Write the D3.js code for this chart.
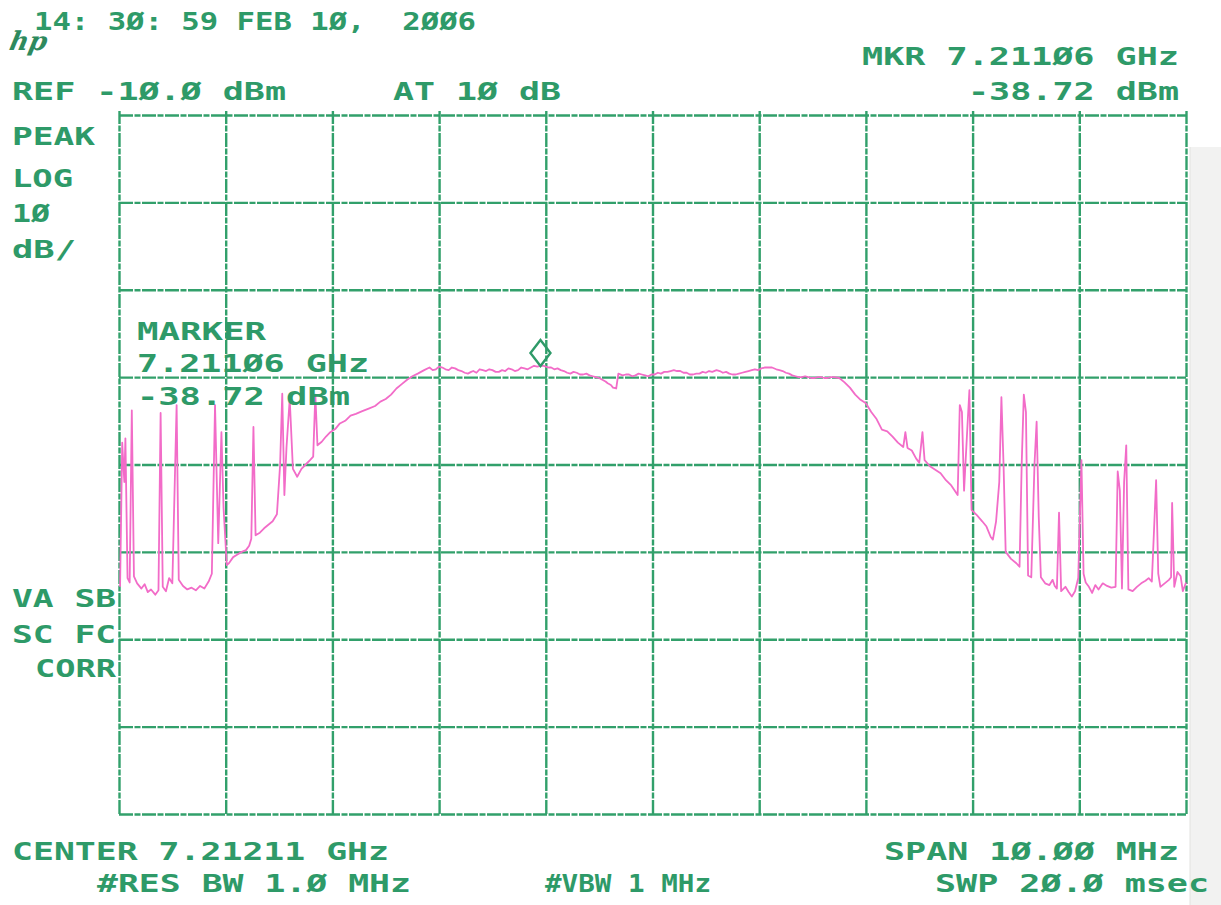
<!DOCTYPE html>
<html>
<head>
<meta charset="utf-8">
<script src="https://cdn.jsdelivr.net/npm/d3@7"></script>
<style>
  html, body { margin: 0; padding: 0; background: #ffffff; }
  svg { display: block; }
  .lbl { font-family: "DejaVu Sans Mono", "Liberation Mono", monospace; font-weight: bold; font-size: 24px; fill: #2e9a68; white-space: pre; }
</style>
</head>
<body>
<svg id="chart" width="1221" height="905"></svg>
<script>
// Analyzer settings
const centerGHz = 7.21211;
const spanMHz = 10;
const refLevel = -10;        // dBm, top graticule line
const dbPerDiv = 10;
const vDivs = 8;
const hDivs = 10;

// Marker readout
const markerGHz = 7.21106;
const markerDbm = -38.72;

// Trace: frequency offset from centre (MHz) and level (dBm)
const traceOffsetMHz = [
  -4.99, -4.97, -4.95, -4.94, -4.92, -4.90, -4.88, -4.86, -4.83, -4.79, -4.76, -4.73, -4.70, -4.66, -4.63,
  -4.61, -4.59, -4.56, -4.53, -4.50, -4.46, -4.44, -4.40, -4.36, -4.32, -4.28, -4.24, -4.20, -4.16, -4.13,
  -4.10, -4.07, -4.04, -4.02, -3.99, -3.97, -3.93, -3.89, -3.85, -3.81, -3.78, -3.76, -3.74, -3.72, -3.68,
  -3.64, -3.60, -3.56, -3.52, -3.49, -3.47, -3.45, -3.43, -3.40, -3.37, -3.33, -3.29, -3.25, -3.21, -3.18,
  -3.16, -3.14, -3.10, -3.06, -3.02, -2.97, -2.93, -2.88, -2.83, -2.78, -2.72, -2.66, -2.60, -2.55, -2.50,
  -2.45, -2.40, -2.35, -2.30, -2.25, -2.20, -2.14, -2.09, -2.06, -2.03, -2.00, -1.97, -1.94, -1.91, -1.88,
  -1.85, -1.82, -1.79, -1.76, -1.73, -1.70, -1.68, -1.65, -1.62, -1.59, -1.56, -1.53, -1.50, -1.47, -1.44,
  -1.41, -1.38, -1.35, -1.32, -1.29, -1.26, -1.23, -1.20, -1.17, -1.14, -1.11, -1.08, -1.05, -1.02, -1.00,
  -0.97, -0.95, -0.92, -0.89, -0.86, -0.83, -0.80, -0.77, -0.74, -0.71, -0.68, -0.65, -0.62, -0.59, -0.56,
  -0.53, -0.50, -0.47, -0.44, -0.42, -0.39, -0.37, -0.34, -0.32, -0.28, -0.25, -0.22, -0.19, -0.16, -0.13,
  -0.10, -0.07, -0.04, -0.01, 0.02, 0.05, 0.08, 0.11, 0.14, 0.17, 0.20, 0.23, 0.26, 0.29, 0.32,
  0.35, 0.38, 0.41, 0.44, 0.47, 0.50, 0.53, 0.56, 0.60, 0.63, 0.66, 0.69, 0.72, 0.75, 0.78,
  0.81, 0.84, 0.87, 0.90, 0.93, 0.96, 0.99, 1.02, 1.05, 1.08, 1.12, 1.16, 1.19, 1.22, 1.25,
  1.28, 1.31, 1.34, 1.37, 1.40, 1.43, 1.46, 1.49, 1.52, 1.55, 1.58, 1.61, 1.64, 1.67, 1.70,
  1.75, 1.80, 1.85, 1.90, 1.95, 2.00, 2.05, 2.10, 2.15, 2.20, 2.25, 2.30, 2.35, 2.37, 2.39,
  2.43, 2.47, 2.50, 2.53, 2.55, 2.60, 2.65, 2.70, 2.75, 2.80, 2.86, 2.88, 2.90, 2.92, 2.95,
  2.97, 2.99, 3.04, 3.09, 3.13, 3.17, 3.19, 3.22, 3.25, 3.27, 3.29, 3.31, 3.36, 3.41, 3.44,
  3.46, 3.48, 3.50, 3.52, 3.55, 3.58, 3.60, 3.62, 3.64, 3.68, 3.72, 3.75, 3.77, 3.79, 3.81,
  3.83, 3.87, 3.90, 3.93, 3.96, 3.99, 4.02, 4.04, 4.06, 4.09, 4.12, 4.15, 4.18, 4.22, 4.26,
  4.30, 4.34, 4.36, 4.38, 4.40, 4.42, 4.44, 4.46, 4.50, 4.54, 4.58, 4.62, 4.65, 4.68, 4.72,
  4.74, 4.76, 4.80, 4.84, 4.86, 4.87, 4.89, 4.92, 4.95, 4.97, 5.00
];
const traceDbm = [
  -64.0, -47.5, -52.0, -47.0, -63.0, -63.5, -43.8, -62.8, -63.6, -64.2, -63.7, -64.6, -64.3, -64.9, -64.4,
  -44.1, -64.0, -64.5, -63.0, -63.6, -43.2, -63.2, -63.9, -64.3, -64.1, -64.4, -63.9, -64.2, -63.4, -62.5,
  -43.2, -59.0, -46.3, -55.0, -61.5, -61.3, -60.6, -60.3, -60.0, -59.8, -59.3, -58.5, -45.7, -58.1, -57.8,
  -57.3, -56.9, -56.5, -55.7, -50.0, -41.9, -53.5, -48.0, -42.5, -50.5, -51.4, -50.5, -50.0, -49.5, -49.1,
  -42.0, -47.8, -47.4, -46.8, -46.3, -45.9, -45.3, -45.0, -44.4, -44.2, -43.9, -43.6, -43.3, -42.8, -42.5,
  -42.0, -41.3, -40.8, -40.3, -39.9, -39.6, -39.2, -38.9, -39.2, -39.1, -38.8, -38.9, -39.1, -39.2, -38.9,
  -39.0, -39.2, -39.3, -39.5, -39.6, -39.4, -39.3, -39.5, -39.1, -39.2, -39.3, -39.1, -39.2, -39.4, -39.4,
  -39.2, -39.3, -39.0, -39.1, -39.3, -39.2, -38.9, -39.0, -39.1, -38.9, -38.7, -38.8, -38.72, -38.7, -38.8,
  -38.9, -38.9, -39.1, -39.0, -39.2, -39.3, -39.5, -39.6, -39.4, -39.5, -39.7, -39.7, -39.6, -39.8, -39.9,
  -40.0, -40.1, -40.3, -40.5, -40.7, -40.9, -41.2, -41.3, -39.6, -39.8, -39.7, -39.7, -39.9, -39.8, -39.6,
  -39.7, -39.8, -39.9, -39.7, -39.7, -39.5, -39.6, -39.4, -39.4, -39.3, -39.2, -39.3, -39.3, -39.5, -39.5,
  -39.7, -39.7, -39.6, -39.6, -39.4, -39.5, -39.3, -39.4, -39.2, -39.3, -39.5, -39.4, -39.6, -39.7, -39.7,
  -39.6, -39.5, -39.4, -39.3, -39.2, -39.1, -39.2, -39.0, -38.9, -38.9, -38.9, -39.1, -39.2, -39.3, -39.5,
  -39.6, -39.8, -39.9, -40.0, -40.0, -39.9, -40.0, -40.1, -40.1, -40.0, -40.0, -40.1, -40.1, -40.0, -40.0,
  -40.1, -40.6, -41.2, -42.0, -42.6, -43.0, -44.0, -44.8, -46.0, -46.2, -46.8, -47.5, -48.0, -46.3, -48.1,
  -48.4, -49.3, -49.8, -46.3, -49.5, -50.2, -50.6, -51.0, -51.8, -52.4, -53.5, -43.2, -44.0, -53.0, -46.0,
  -41.5, -55.2, -55.8, -56.5, -57.1, -58.3, -58.6, -56.5, -52.0, -42.3, -50.0, -60.0, -60.8, -61.3, -61.7,
  -50.0, -42.0, -44.0, -62.7, -62.9, -50.0, -45.1, -56.0, -62.9, -63.6, -63.8, -63.2, -63.9, -64.2, -55.5,
  -64.5, -64.0, -64.6, -65.1, -64.5, -63.0, -49.5, -62.5, -63.5, -64.0, -64.7, -63.8, -64.3, -63.6, -63.9,
  -64.1, -64.0, -50.8, -53.0, -64.2, -52.0, -47.8, -64.3, -64.5, -64.0, -63.6, -63.3, -63.0, -63.4, -51.8,
  -62.5, -64.0, -63.6, -63.2, -62.9, -54.4, -64.0, -62.3, -62.8, -64.5, -63.5
];

// Annotation text printed round the graticule
const headerDate = "14: 3Ø: 59 FEB 1Ø,  2ØØ6";
const refText = "REF -1Ø.Ø dBm";
const attenText = "AT 1Ø dB";
const mkrFreqText = "MKR 7.211Ø6 GHz";
const mkrLevelText = "-38.72 dBm";
const sideLabels = ["PEAK", "LOG", "1Ø", "dB/"];
const markerBlock = ["MARKER", "7.211Ø6 GHz", "-38.72 dBm"];
const corrLabels = ["VA SB", "SC FC", "CORR"];
const centerText = "CENTER 7.21211 GHz";
const spanText = "SPAN 1Ø.ØØ MHz";
const rbwText = "#RES BW 1.Ø MHz";
const vbwText = "#VBW 1 MHz";
const sweepText = "SWP 2Ø.Ø msec";

const svg = d3.select("#chart");
const gridColor = "#32a06b";
const traceColor = "#f26cc8";

// Paper edge at the right side of the sheet
svg.append("rect").attr("x", 1190).attr("y", 147).attr("width", 31).attr("height", 758)
  .attr("fill", "#f2f2f1");
svg.append("line").attr("x1", 1190).attr("x2", 1190).attr("y1", 147).attr("y2", 905)
  .attr("stroke", "#e2e2e0").attr("stroke-width", 1);

const plot = { left: 119, right: 1186, top: 115, bottom: 814 };

const x = d3.scaleLinear().domain([-spanMHz / 2, spanMHz / 2]).range([plot.left, plot.right]);
const y = d3.scaleLinear().domain([refLevel - vDivs * dbPerDiv, refLevel]).range([plot.bottom, plot.top]);

const xTicks = d3.range(hDivs + 1).map(i => -spanMHz / 2 + i * spanMHz / hDivs);
const yTicks = d3.range(vDivs + 1).map(i => refLevel - i * dbPerDiv);

// Graticule drawn with axes: ticks stretched across the screen
const gx = svg.append("g")
  .attr("transform", `translate(0,${plot.bottom})`)
  .call(d3.axisBottom(x).tickValues(xTicks).tickSize(-(plot.bottom - plot.top) - 4).tickSizeOuter(0).tickFormat(""));
const gy = svg.append("g")
  .attr("transform", `translate(${plot.left},0)`)
  .call(d3.axisLeft(y).tickValues(yTicks).tickSize(-(plot.right - plot.left)).tickSizeOuter(0).tickFormat(""));
[gx, gy].forEach(g => {
  g.select(".domain").remove();
  g.selectAll(".tick line")
    .attr("stroke", gridColor)
    .attr("stroke-width", 2.4)
    .attr("stroke-dasharray", "14,1.5,6,1.5");
});

// Trace
const traceData = traceOffsetMHz.map((f, i) => ({ f, v: traceDbm[i] }));
svg.append("path")
  .datum(traceData)
  .attr("fill", "none")
  .attr("stroke", traceColor)
  .attr("stroke-width", 1.8)
  .attr("stroke-linejoin", "round")
  .attr("d", d3.line().x(d => x(d.f)).y(d => y(d.v)));

// Marker diamond sitting on the trace
const mx = x((markerGHz - centerGHz) * 1000);
const my = y(markerDbm);
svg.append("path")
  .attr("d", `M${mx},${my} L${mx - 10},${my - 13} L${mx},${my - 26} L${mx + 10},${my - 13} Z`)
  .attr("fill", "none")
  .attr("stroke", "#2e9a68")
  .attr("stroke-width", 2.4);

// Text helper: string stretched between a left and right extent
function label(text, x0, x1, base) {
  svg.append("text")
    .attr("class", "lbl")
    .attr("x", x0)
    .attr("y", base)
    .attr("xml:space", "preserve")
    .attr("textLength", x1 - x0)
    .attr("lengthAdjust", "spacingAndGlyphs")
    .text(text);
}

label(headerDate, 34, 476, 30);
label(refText, 12, 286, 100);
label(attenText, 393, 561, 100);
label(mkrFreqText, 862, 1179, 65);
label(mkrLevelText, 968, 1179, 100);

label(sideLabels[0], 12, 95, 145);
label(sideLabels[1], 12, 73, 187);
label(sideLabels[2], 12, 50, 222);
label(sideLabels[3], 12, 76, 258);

label(markerBlock[0], 137, 266, 340);
label(markerBlock[1], 137, 369, 372);
label(markerBlock[2], 137, 350, 405);

label(corrLabels[0], 12, 116, 607);
label(corrLabels[1], 12, 116, 643);
label(corrLabels[2], 35, 116, 677);

label(centerText, 12, 389, 860);
label(spanText, 884, 1179, 860);
label(rbwText, 97, 411, 892);
label(vbwText, 545, 711, 892);
label(sweepText, 935, 1209, 892);

// Maker's logo under the timestamp
svg.append("text")
  .attr("x", 11).attr("y", 50)
  .attr("font-family", "DejaVu Serif, serif")
  .attr("font-style", "italic")
  .attr("font-weight", "bold")
  .attr("font-size", 26)
  .attr("fill", "#2e8a5e")
  .attr("transform", "skewX(-12) translate(8,0)")
  .text("hp");
</script>
</body>
</html>
